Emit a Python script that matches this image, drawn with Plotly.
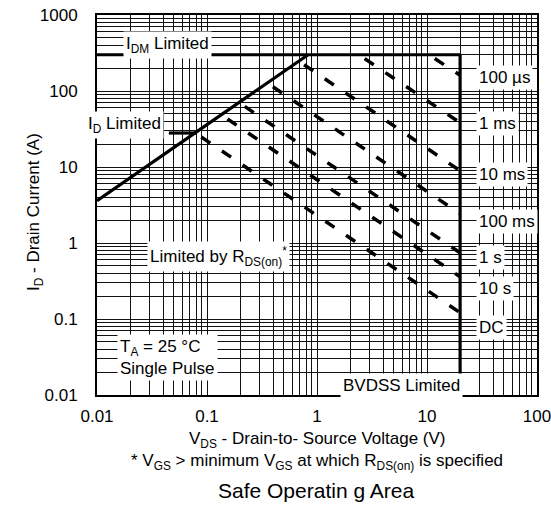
import plotly.graph_objects as go

# ---------------- data ----------------
x_decades = [0.01, 0.1, 1, 10, 100]
x_tick_labels = ["0.01", "0.1", "1", "10", "100"]
y_decades = [0.01, 0.1, 1, 10, 100, 1000]
y_tick_labels = ["0.01", "0.1", "1", "10", "100", "1000"]
minor_steps = [1, 2, 3, 4, 5, 6, 7, 8, 9]

# limit lines
rds_v = [0.01, 0.83]
rds_i = [3.6, 300]
idm_v = [0.01, 20]
idm_i = [300, 300]
bv_v = [20, 20]
bv_i = [300, 0.01]
id_v = [0.045, 0.08]
id_i = [28, 28]

# pulse-width dashed lines (start point -> end at BVDSS)
pulse_labels = ["100 µs", "1 ms", "10 ms", "100 ms", "1 s", "10 s", "DC"]
pulse_v0 = [10.4, 2.4, 0.676, 0.352, 0.195, 0.136, 0.0785]
pulse_i0 = [300, 300, 250, 128, 70.6, 48.3, 28]
pulse_v1 = [20, 20, 20, 20, 20, 20, 20]
pulse_i1 = [161, 38.2, 8.9, 2.42, 0.743, 0.359, 0.121]

# ---------------- layout helpers ----------------
W, H = 551, 506
L, R, T, B = 97, 537, 15, 395
FONT = "Liberation Sans, Arial, Helvetica, sans-serif"


def fx(p):
    return (p - L) / (R - L)


def fy(p):
    return (B - p) / (B - T)


x_vals, x_text = [], []
for i, d in enumerate(x_decades):
    steps = minor_steps if i < len(x_decades) - 1 else [1]
    for k in steps:
        x_vals.append(d * k)
        x_text.append(x_tick_labels[i] if k == 1 else "")

y_vals, y_text = [], []
for i, d in enumerate(y_decades):
    steps = minor_steps if i < len(y_decades) - 1 else [1]
    for k in steps:
        y_vals.append(d * k)
        y_text.append(y_tick_labels[i] if k == 1 else "")

fig = go.Figure()

solid = dict(color="black", width=3.2)
for vx, iy in [(rds_v, rds_i), (idm_v, idm_i), (bv_v, bv_i), (id_v, id_i)]:
    fig.add_trace(go.Scatter(x=vx, y=iy, mode="lines", line=solid,
                             showlegend=False, hoverinfo="skip"))

for lab, v0, i0, v1, i1 in zip(pulse_labels, pulse_v0, pulse_i0, pulse_v1, pulse_i1):
    fig.add_trace(go.Scatter(x=[v0, v1], y=[i0, i1], mode="lines", name=lab,
                             line=dict(color="black", width=3.5, dash="0px,7px,11px,7px"),
                             showlegend=False, hoverinfo="skip"))

axis_common = dict(type="log", showgrid=True, gridcolor="#111111", gridwidth=1,
                   showline=True, linecolor="black", linewidth=2, mirror=True,
                   ticks="", zeroline=False, ticklabeloverflow="allow",
                   automargin=False,
                   tickfont=dict(size=17, color="black", family=FONT))
fig.update_xaxes(range=[-2, 2], tickmode="array", tickvals=x_vals, ticktext=x_text,
                 ticklabelstandoff=5, **axis_common)
fig.update_yaxes(range=[-2, 3], tickmode="array", tickvals=y_vals, ticktext=y_text,
                 ticklabelstandoff=14, **axis_common)

ann = []


def box(text, cx, cy, anchor="center", align="center", size=17, pad=2, bg="white"):
    d = dict(text=text, x=fx(cx), y=fy(cy), xref="paper", yref="paper",
             xanchor=anchor, yanchor="middle", align=align, showarrow=False,
             borderpad=pad, font=dict(size=size, color="black", family=FONT))
    if bg:
        d["bgcolor"] = bg
    ann.append(d)


box("I<sub>DM</sub> Limited", 167, 45)
box("I<sub>D</sub> Limited", 124, 125)
box("Limited by R<sub>DS(on)</sub><sup>*</sup>", 218, 256)
box("T<sub>A</sub> = 25 °C<br>Single Pulse", 117, 357, anchor="left", align="left")
box("BVDSS Limited", 401, 385)

pulse_label_y = [78, 123, 174, 221, 257, 288, 327]
for lab, py in zip(pulse_labels, pulse_label_y):
    box(lab, 476, py, anchor="left", align="left")

box("V<sub>DS</sub> - Drain-to- Source Voltage (V)", 317, 440, bg=None)
box("* V<sub>GS</sub> > minimum V<sub>GS</sub> at which R<sub>DS(on)</sub> is specified", 317, 462, bg=None)
box("Safe Operatin g Area", 316, 490, size=21, bg=None)
ann.append(dict(text="I<sub>D</sub> - Drain Current (A)", x=fx(35), y=fy(212),
                xref="paper", yref="paper", xanchor="center", yanchor="middle",
                textangle=-90, showarrow=False,
                font=dict(size=17, color="black", family=FONT)))

fig.update_layout(width=W, height=H, margin=dict(l=L, r=W - R, t=T, b=H - B),
                  plot_bgcolor="white", paper_bgcolor="white",
                  font=dict(family=FONT, color="black"),
                  annotations=ann, showlegend=False)

fig.write_html("out.html")
